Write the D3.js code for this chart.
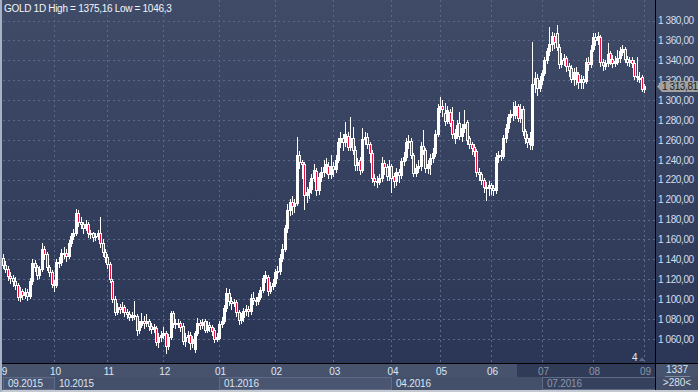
<!DOCTYPE html>
<html>
<head>
<meta charset="utf-8">
<script src="https://cdn.jsdelivr.net/npm/d3@7"></script>
<style>
  body { margin: 0; background: #2b3656; }
  svg { display: block; font-family: "Liberation Sans", Arial, sans-serif; }
</style>
</head>
<body>
<div id="chart"></div>
<script>
// GOLD daily candles, 09.2015 - 09.2016 (one line per month)
var opens = [
  1141,1134,1130,1123,1121,1118,1114,1102,1108,1104,1107,1103,1118,1136,1132,1124,1130,1150,1145,1132,1127,
  1115,1114,1137,1137,1146,1146,1143,1156,1163,1166,1187,1178,1176,1172,1176,1166,1166,1162,1163,1166,1156,1147,
  1142,1135,1118,1100,1087,1092,1090,1092,1087,1085,1082,1084,1083,1069,1074,1078,1076,1078,1073,1070,1071,1057,1062,
  1064,1066,1053,1062,1086,1076,1075,1076,1073,1058,1062,1064,1056,1050,1066,1076,1074,1078,1069,1074,1072,1069,1060,
  1061,1075,1078,1091,1106,1098,1096,1097,1087,1079,1082,1088,1090,1088,1101,1099,1098,1102,1109,1121,1122,1108,1113,
  1116,1127,1128,1141,1150,1172,1190,1198,1194,1197,1245,1238,1236,1205,1208,1211,1222,1229,1210,1223,1228,1233,1234,1226,
  1234,1231,1240,1258,1262,1258,1264,1253,1262,1250,1235,1240,1230,1261,1263,1256,1247,1222,1219,1218,1222,1237,1233,1224,
  1234,1224,1219,1228,1225,1239,1243,1258,1259,1245,1227,1232,1234,1254,1250,1232,1236,1242,1247,1266,
  1292,1294,1287,1279,1288,1280,1262,1266,1277,1264,1272,1278,1262,1256,1253,1249,1228,1226,1220,1213,1212,
  1215,1212,1210,1243,1245,1244,1262,1272,1283,1286,1285,1294,1282,1291,1269,1262,1256,1255,1316,1322,1312,
  1320,1327,1340,1349,1356,1364,1367,1353,1336,1340,1342,1334,1332,1321,1328,1326,1318,1321,1319,1338,1336,
  1351,1363,1360,1363,1338,1334,1337,1347,1341,1337,1338,1342,1348,1351,1341,1338,1340,1337,1324,1322,1323,
  1311
];
var highs = [
  1145,1138,1133,1127,1124,1122,1116,1112,1110,1111,1110,1121,1140,1139,1134,1133,1156,1153,1147,1134,1129,
  1119,1140,1142,1150,1152,1150,1159,1167,1171,1191,1190,1183,1178,1180,1178,1170,1168,1167,1170,1183,1160,1150,
  1145,1137,1120,1103,1096,1095,1097,1094,1090,1088,1087,1098,1085,1078,1086,1083,1085,1080,1076,1075,1073,1066,1068,
  1072,1068,1065,1088,1088,1080,1080,1078,1076,1066,1068,1067,1063,1068,1081,1079,1080,1080,1078,1077,1074,1071,1066,
  1078,1082,1094,1111,1110,1102,1100,1099,1089,1086,1091,1094,1093,1105,1107,1102,1106,1112,1124,1128,1124,1117,1120,
  1130,1133,1145,1155,1175,1196,1201,1204,1201,1263,1249,1240,1238,1213,1218,1226,1236,1232,1227,1233,1240,1242,1238,1245,
  1238,1245,1262,1268,1266,1278,1268,1283,1273,1254,1242,1243,1272,1268,1267,1258,1250,1226,1224,1226,1243,1240,1236,1240,
  1236,1227,1232,1231,1242,1248,1262,1265,1262,1247,1236,1240,1258,1270,1252,1240,1246,1252,1270,1296,
  1303,1300,1297,1294,1291,1293,1271,1280,1288,1276,1290,1280,1264,1258,1256,1251,1232,1228,1222,1218,1219,
  1217,1215,1247,1249,1250,1265,1276,1286,1290,1298,1299,1296,1296,1294,1271,1266,1268,1358,1328,1326,1324,
  1330,1343,1352,1373,1368,1367,1375.16,1356,1347,1346,1344,1337,1335,1332,1333,1328,1325,1324,1342,1343,1355,
  1367,1367,1368,1365,1341,1340,1357,1349,1345,1344,1350,1353,1355,1353,1344,1343,1343,1340,1343,1328,1325,
  1316
];
var lows = [
  1131,1127,1119,1116,1113,1110,1099,1098,1100,1101,1099,1101,1115,1128,1120,1121,1128,1140,1129,1123,1112,
  1108,1112,1132,1134,1141,1138,1141,1153,1160,1164,1174,1172,1166,1170,1162,1161,1158,1159,1160,1152,1143,1137,
  1131,1117,1097,1084,1085,1086,1087,1083,1081,1079,1079,1080,1064,1066,1072,1071,1073,1069,1066,1067,1054,1052,1058,
  1061,1046.3,1050,1060,1072,1071,1072,1068,1055,1053,1057,1050,1052,1047,1064,1070,1071,1067,1067,1068,1064,1057,1058,
  1060,1072,1076,1088,1094,1090,1093,1083,1075,1076,1078,1084,1083,1085,1095,1094,1095,1100,1107,1117,1104,1106,1110,
  1113,1121,1125,1138,1148,1168,1185,1186,1188,1195,1232,1222,1191,1198,1202,1207,1219,1205,1206,1219,1224,1227,1222,1222,
  1224,1228,1238,1253,1250,1254,1250,1250,1246,1230,1230,1226,1228,1256,1252,1238,1218,1215,1213,1216,1219,1226,1220,1220,
  1208,1213,1215,1218,1222,1235,1240,1252,1242,1224,1224,1228,1230,1246,1228,1227,1226,1238,1244,1264,
  1288,1284,1275,1277,1274,1262,1257,1262,1261,1259,1268,1256,1252,1246,1244,1224,1220,1216,1208,1200,1205,
  1206,1205,1207,1238,1240,1242,1258,1268,1278,1280,1282,1279,1278,1265,1257,1253,1251,1251,1308,1305,1309,
  1316,1325,1337,1345,1350,1352,1350,1332,1333,1335,1329,1324,1318,1315,1316,1312,1312,1312,1317,1330,1333,
  1349,1355,1356,1334,1330,1331,1334,1336,1333,1334,1336,1338,1345,1338,1335,1334,1333,1321,1319,1318,1309,
  1308
];
var closes = [
  1134,1130,1123,1121,1118,1114,1102,1108,1104,1107,1103,1118,1136,1132,1124,1130,1150,1145,1132,1127,1115,
  1114,1137,1137,1146,1146,1143,1156,1163,1166,1187,1178,1176,1172,1176,1166,1166,1162,1163,1166,1156,1147,1142,
  1135,1120,1100,1087,1092,1090,1092,1087,1085,1082,1084,1083,1069,1074,1078,1076,1078,1073,1070,1072,1057,1062,1064,
  1066,1053,1062,1086,1076,1075,1076,1072,1058,1062,1064,1056,1060,1066,1076,1074,1077,1069,1074,1072,1068,1060,1062,
  1075,1078,1091,1106,1098,1096,1097,1087,1079,1082,1088,1090,1088,1101,1099,1098,1102,1109,1121,1124,1108,1113,1116,
  1127,1128,1141,1150,1172,1190,1198,1194,1197,1245,1238,1236,1205,1208,1211,1222,1230,1210,1223,1228,1233,1236,1226,1234,
  1231,1240,1258,1262,1258,1266,1253,1262,1250,1235,1238,1230,1261,1263,1256,1247,1222,1219,1218,1222,1237,1233,1224,1234,
  1222,1219,1228,1225,1239,1243,1258,1259,1245,1227,1232,1234,1254,1250,1232,1236,1242,1247,1266,1292,
  1294,1291,1279,1290,1277,1266,1267,1275,1264,1272,1276,1260,1256,1252,1249,1228,1226,1220,1213,1212,1215,
  1212,1210,1243,1245,1244,1262,1272,1283,1286,1285,1294,1282,1291,1269,1262,1258,1262,1316,1322,1312,1320,
  1327,1340,1349,1356,1364,1358,1353,1336,1340,1342,1334,1330,1321,1328,1327,1318,1321,1318,1338,1336,1350,
  1363,1360,1364,1338,1335,1337,1346,1341,1337,1339,1342,1349,1351,1341,1338,1340,1337,1324,1323,1322,1311,
  1313.81
];

// months on the time axis: label and number of candles in each
var monthLabels = ["9","10","11","12","01","02","03","04","05","06","07","08","09"];
var monthCounts = [21,22,23,23,23,24,24,20,21,21,21,21,1];
// second row of the time axis (month index where each label starts)
var quarterLabels = ["09.2015","10.2015","01.2016","04.2016","07.2016"];
var quarterMonth = [0,1,4,7,10];

var priceTicks = [1060,1080,1100,1120,1140,1160,1180,1200,1220,1240,1260,1280,1300,1320,1340,1360,1380];
var lastPrice = 1313.81;
var title = "GOLD 1D High = 1375,16 Low = 1046,3";

var svgWidth = 698, svgHeight = 392;
var plotRight = 655, axisTop = 363;

var monthStarts = [];
monthCounts.reduce(function(acc, n) { monthStarts.push(acc); return acc + n; }, 0);

var svg = d3.select("#chart").append("svg")
  .attr("width", svgWidth)
  .attr("height", svgHeight);

var grad = svg.append("defs").append("linearGradient")
  .attr("id", "bg").attr("x1", 0).attr("y1", 0).attr("x2", 0).attr("y2", 1);
grad.append("stop").attr("offset", "0%").attr("stop-color", "#3f4b67");
grad.append("stop").attr("offset", "100%").attr("stop-color", "#2b3656");

svg.append("rect")
  .attr("width", svgWidth).attr("height", axisTop)
  .attr("fill", "url(#bg)");

var xScale = d3.scaleLinear().domain([0, closes.length - 1]).range([3, 644]);
var yScale = d3.scaleLinear().domain([1060, 1380]).range([339, 20.5]);

// grid
var grid = svg.append("g")
  .attr("stroke", "#5b6889")
  .attr("stroke-dasharray", "2,3")
  .attr("shape-rendering", "crispEdges");
grid.selectAll(".hgrid")
  .data(priceTicks)
  .enter().append("line")
  .attr("x1", 3).attr("x2", plotRight)
  .attr("y1", d => Math.round(yScale(d)) + 0.5)
  .attr("y2", d => Math.round(yScale(d)) + 0.5);
grid.selectAll(".vgrid")
  .data(monthStarts.slice(1))
  .enter().append("line")
  .attr("x1", d => Math.round(xScale(d)) + 0.5)
  .attr("x2", d => Math.round(xScale(d)) + 0.5)
  .attr("y1", 0).attr("y2", axisTop);

// candles
var idx = d3.range(closes.length);
var candles = svg.append("g").attr("shape-rendering", "crispEdges");

candles.selectAll(".wick")
  .data(idx)
  .enter().append("line")
  .attr("x1", i => Math.round(xScale(i)) + 0.5)
  .attr("x2", i => Math.round(xScale(i)) + 0.5)
  .attr("y1", i => Math.round(yScale(highs[i])))
  .attr("y2", i => Math.round(yScale(lows[i])) + 1)
  .attr("stroke", "#ffffff");

candles.selectAll(".body")
  .data(idx)
  .enter().append("rect")
  .attr("x", i => Math.round(xScale(i)) - 0.5)
  .attr("width", 2)
  .attr("y", i => Math.round(yScale(Math.max(opens[i], closes[i]))) + 0.5)
  .attr("height", function(i) {
    var top = Math.round(yScale(Math.max(opens[i], closes[i])));
    var bot = Math.round(yScale(Math.min(opens[i], closes[i])));
    return Math.max(1, bot - top);
  })
  .attr("fill", i => closes[i] < opens[i] ? "#e8123e" : "none")
  .attr("stroke", "#ffffff");

// right price axis
var fmt = d3.formatLocale({decimal: ",", thousands: " ", grouping: [3], currency: ["", ""]}).format(",.2f");
var yAxis = d3.axisRight(yScale).tickValues(priceTicks).tickSize(0).tickPadding(3).tickFormat(fmt);
svg.append("g")
  .attr("transform", "translate(" + plotRight + ",0)")
  .call(yAxis)
  .call(g => g.select(".domain").remove())
  .attr("font-family", "'Liberation Sans', Arial, sans-serif")
  .attr("font-size", 10)
  .selectAll("text")
  .attr("fill", "#d3def0")
  .attr("letter-spacing", "-0.4");

// last price marker
var ly = yScale(lastPrice);
svg.append("path")
  .attr("d", "M657," + ly + " L662," + (ly - 5.5) + " L698," + (ly - 5.5) + " L698," + (ly + 5.5) + " L662," + (ly + 5.5) + " Z")
  .attr("fill", "#a2a2a2");
svg.append("text")
  .attr("x", 662).attr("y", ly + 3.6)
  .attr("font-size", 10).attr("letter-spacing", "-0.4")
  .attr("fill", "#1c1c1c")
  .text(fmt(lastPrice));

// bottom time axis background
svg.append("rect").attr("x", 0).attr("y", axisTop).attr("width", svgWidth).attr("height", 14).attr("fill", "#47536d");
svg.append("rect").attr("x", 0).attr("y", axisTop + 14).attr("width", svgWidth).attr("height", 13).attr("fill", "#44506a");
svg.append("rect").attr("x", 517).attr("y", axisTop + 1).attr("width", plotRight - 517).attr("height", 13).attr("fill", "#303b57");

var qStart = quarterMonth.map(m => monthStarts[m]);
svg.selectAll(".qbox")
  .data(quarterLabels)
  .enter().append("rect")
  .attr("x", (d, i) => Math.round(xScale(qStart[i])) + 0.5)
  .attr("y", axisTop + 14.5)
  .attr("width", function(d, i) {
    var end = i < qStart.length - 1 ? Math.round(xScale(qStart[i + 1])) : plotRight;
    return end - Math.round(xScale(qStart[i]));
  })
  .attr("height", 12)
  .attr("fill", (d, i) => i === 4 ? "#36415d" : "#4a5671")
  .attr("stroke", "#5e6b87")
  .attr("opacity", (d, i) => i % 2 === 0 ? 1 : 0);

svg.selectAll(".qlabel")
  .data(quarterLabels)
  .enter().append("text")
  .attr("x", (d, i) => Math.round(xScale(qStart[i])) + 5)
  .attr("y", axisTop + 24)
  .attr("font-size", 10).attr("letter-spacing", "-0.2")
  .attr("fill", (d, i) => i === 4 ? "#8c97ab" : "#dbe4f3")
  .text(d => d);

var xAxis = d3.axisBottom(xScale).tickValues(monthStarts).tickSize(0).tickPadding(5)
  .tickFormat((d, i) => monthLabels[i]);
svg.append("g")
  .attr("transform", "translate(1," + axisTop + ")")
  .call(xAxis)
  .call(g => g.select(".domain").remove())
  .attr("font-family", "'Liberation Sans', Arial, sans-serif")
  .attr("font-size", 10)
  .selectAll("text")
  .attr("fill", (d, i) => i >= 10 ? "#8c97ab" : "#dde6f5");

// right bottom cell
svg.append("text").attr("x", 677).attr("y", 373).attr("text-anchor", "middle")
  .attr("font-size", 10).attr("fill", "#dbe3f0").text("1337");
svg.append("line").attr("x1", 665).attr("x2", 690).attr("y1", 376.5).attr("y2", 376.5)
  .attr("stroke", "#7d889d");
svg.append("text").attr("x", 677).attr("y", 386).attr("text-anchor", "middle")
  .attr("font-size", 10).attr("fill", "#dbe3f0").text(">280<");

// small marker at bottom of plot
svg.append("text").attr("x", 632).attr("y", 361)
  .attr("font-size", 10).attr("fill", "#e6ecf5").text("4");
svg.append("path").attr("d", "M639,361 L642,357.5 L645,361 Z").attr("fill", "#5e6a85");

// frame lines
svg.append("line").attr("x1", 0).attr("x2", svgWidth).attr("y1", axisTop + 0.5).attr("y2", axisTop + 0.5)
  .attr("stroke", "#000");
svg.append("line").attr("x1", plotRight + 0.5).attr("x2", plotRight + 0.5).attr("y1", 0).attr("y2", axisTop + 27)
  .attr("stroke", "#000");
svg.append("rect").attr("x", 0).attr("y", 390).attr("width", svgWidth).attr("height", 2).attr("fill", "#c3c8d1");
svg.append("rect").attr("x", 0).attr("y", 0).attr("width", 2).attr("height", svgHeight).attr("fill", "#a9b2c2");

// title
svg.append("text")
  .attr("x", 4).attr("y", 12)
  .attr("font-size", 10).attr("letter-spacing", "-0.3")
  .attr("fill", "#f2f5fa")
  .text(title);
</script>
</body>
</html>
